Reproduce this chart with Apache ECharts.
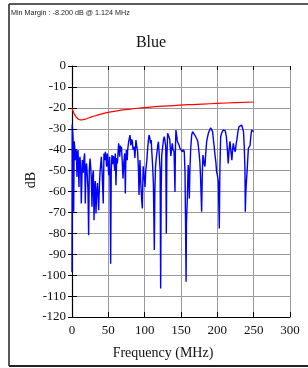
<!DOCTYPE html>
<html>
<head>
<meta charset="utf-8">
<script src="https://cdn.jsdelivr.net/npm/echarts@6/dist/echarts.min.js"></script>
<style>
html, body { margin: 0; padding: 0; background: #fff; }
#main { width: 308px; height: 368px; }
</style>
</head>
<body>
<div id="main"></div>
<script>
var xTicks = [0, 50, 100, 150, 200, 250, 300];
var yTicks = [0, -10, -20, -30, -40, -50, -60, -70, -80, -90, -100, -110, -120];

// red limit line
var limitFreq = [0, 2, 4, 6, 8, 10, 12, 15, 20, 25, 30, 40, 50, 60, 70, 80, 90, 100, 120, 140, 160, 180, 200, 225, 250];
var limitDb = [-20, -22, -23.5, -24.5, -25.2, -25.6, -25.8, -25.7, -25.2, -24.6, -24, -23, -22.2, -21.6, -21, -20.6, -20.2, -19.9, -19.3, -18.9, -18.5, -18.2, -17.9, -17.5, -17.2];

// blue measured trace
var blueFreq = [0, 0.3, 1.4, 2.3, 3, 3.7, 4.5, 5.2, 6, 6.9, 7.5, 8.3, 9.6, 10.3, 11, 12, 12.8, 14.2, 15.6, 16.5,
  17.4, 18.3, 19.2, 20, 21, 22, 22.9, 23.8, 24.8, 25.7, 26.6, 27.5, 28.5, 29.4, 30.3, 31.2, 32, 33, 34, 35,
  35.8, 36.7, 37.6, 38.5, 39.5, 40.4, 41.3, 42.2, 43, 44, 45, 45.9, 46.8, 47.7, 48.6, 49.5, 50.5, 51.8, 52.5, 53.2,
  54, 55, 56, 57, 57.8, 58.7, 59.6, 60.5, 61.5, 62.4, 63.3, 64.2, 65, 65.6, 66.5, 67.2, 68, 69, 70.2, 71.3,
  72.5, 73.4, 74, 74.8, 76, 76.6, 78, 79.8, 81, 82, 83, 84, 85.5, 86.5, 88, 89, 90.3, 91.5, 92.2, 93,
  93.5, 94.5, 95.9, 96.8, 97.5, 98, 99, 100.5, 101.5, 103, 104, 105, 106, 107, 108, 109, 110, 111, 112, 113.3,
  114, 115, 116, 117, 118, 119, 120.5, 121.3, 122, 122.7, 123.5, 125, 126, 127, 128, 129, 129.8, 130.5, 131.6, 132.5,
  133.5, 134.5, 136, 137, 138, 139, 140.5, 141.7, 142.3, 143, 144, 145, 146.3, 147.5, 148.6, 149.5, 151, 152, 153.5, 154.5,
  155.5, 156.4, 157, 157.5, 158.7, 159.5, 160, 160.8, 161.5, 162.2, 163.3, 164.7, 166, 167.5, 169, 170.6, 172, 173, 174, 175,
  176, 177, 178.4, 179.3, 180.2, 181, 182, 183, 184, 185.3, 186.5, 187.6, 189, 190.8, 192, 193.5, 194.5, 195.5, 196.8, 198,
  199, 200, 201.4, 202.7, 203.5, 204.6, 206, 208, 209.5, 211, 212.5, 213.7, 215, 216.2, 217.4, 218.5, 220, 221, 222, 223.5,
  224.7, 226, 227, 228.5, 229.8, 231, 232, 233.5, 235, 236, 237, 238, 238.5, 239.3, 240, 241, 242.7, 244, 245, 246,
  247.2, 248.5, 250];
var blueDb = [-98.5, -28, -34, -69.7, -36, -38.6, -45, -40, -41, -53, -42, -40.2, -57.8, -45, -43.4, -50, -65.7, -45, -51, -44,
  -41.8, -65.7, -48, -46.6, -52, -59.3, -80.9, -50, -44.2, -48, -54, -67.3, -52, -50, -73.7, -58, -55, -70.5, -60, -56,
  -62, -69, -58, -51, -47, -43.4, -50, -57.8, -65.7, -41.8, -45, -41, -44, -48.2, -41.8, -46, -52.2, -43.4, -60, -94.5,
  -50, -42.6, -47, -43, -45, -50, -41.8, -57, -44, -46.6, -42, -37, -40, -43.4, -38, -41, -38.6, -45, -53.8, -46,
  -41.8, -61, -46.6, -40.2, -45, -40.2, -36, -33, -38, -35, -36, -40, -38.6, -44, -35.4, -38, -41, -50, -61.7, -50,
  -45, -55, -64.1, -68.1, -55, -47.9, -52, -57.8, -50, -45, -40, -36, -33, -34, -37, -35.4, -42, -48, -56.2, -88,
  -60, -47.9, -44, -41, -38, -36.2, -36.2, -50, -106.4, -60, -42.6, -38, -35, -33.8, -36, -38.6, -80.1, -45, -32.2, -33,
  -31.4, -35, -43, -40, -37, -40, -41, -60.2, -40, -30.6, -33, -36, -35.4, -38, -39.4, -40, -38.6, -41, -40, -41,
  -50.6, -80, -103.2, -75, -63.3, -52, -47.4, -55, -63.4, -50.6, -40, -33, -31.4, -32, -33, -33, -35, -36, -38.6, -42,
  -46, -53.8, -69.7, -52, -42.6, -44, -47, -48, -42, -36.2, -34, -32.2, -31, -29.5, -30, -31.4, -35, -38, -42.6, -46,
  -50.6, -52, -55.4, -77.7, -50, -33.8, -32, -30.6, -31, -31, -34, -39.4, -46.6, -40, -36, -40, -45, -40, -37, -40,
  -41, -37, -35, -31, -29, -28.5, -29.5, -28.2, -29, -31.4, -38, -49, -69.7, -60, -55.4, -50, -39.4, -40, -38, -34,
  -30.6, -30, -31.4];

function zip(xs, ys) {
  var out = [];
  for (var i = 0; i < xs.length; i++) out.push([xs[i], ys[i]]);
  return out;
}

var chartDom = document.getElementById('main');
var myChart = echarts.init(chartDom, null, { renderer: 'canvas' });
var option;

var serif = 'Liberation Serif';
var labelStyle = { color: '#111', fontFamily: serif, fontSize: 13 };

option = {
  animation: false,
  backgroundColor: '#fff',
  grid: { left: 72, right: 18, top: 66, bottom: 51 },
  xAxis: [
    {
      type: 'value', min: xTicks[0], max: xTicks[xTicks.length - 1], interval: 50,
      axisLine: { show: true, onZero: false, lineStyle: { color: '#000', width: 1.2 } },
      axisTick: { show: true, inside: true, length: 5, lineStyle: { color: '#000' } },
      axisLabel: Object.assign({ margin: 7 }, labelStyle),
      splitLine: { show: true, lineStyle: { color: '#999', width: 1 } }
    },
    {
      type: 'value', min: xTicks[0], max: xTicks[xTicks.length - 1], interval: 50, position: 'bottom',
      axisLine: { show: false },
      axisTick: { show: true, length: 4, lineStyle: { color: '#000' } },
      axisLabel: { show: false },
      splitLine: { show: false }
    }
  ],
  yAxis: [
    {
      type: 'value', min: yTicks[yTicks.length - 1], max: yTicks[0], interval: 10,
      axisLine: { show: true, onZero: false, lineStyle: { color: '#000', width: 1.2 } },
      axisTick: { show: true, inside: true, length: 5, lineStyle: { color: '#000' } },
      axisLabel: Object.assign({ margin: 6 }, labelStyle),
      splitLine: { show: true, lineStyle: { color: '#999', width: 1 } }
    },
    {
      type: 'value', min: yTicks[yTicks.length - 1], max: yTicks[0], interval: 10, position: 'left',
      axisLine: { show: false },
      axisTick: { show: true, length: 4, lineStyle: { color: '#000' } },
      axisLabel: { show: false },
      splitLine: { show: false }
    }
  ],
  graphic: [
    { type: 'line', shape: { x1: 9, y1: 4, x2: 308, y2: 4 }, style: { stroke: '#222', lineWidth: 1.5 } },
    { type: 'line', shape: { x1: 9, y1: 4, x2: 9, y2: 366 }, style: { stroke: '#222', lineWidth: 1.5 } },
    { type: 'line', shape: { x1: 9, y1: 366, x2: 308, y2: 366 }, style: { stroke: '#222', lineWidth: 2 } },
    { type: 'text', left: 11, top: 10, style: { text: 'Min Margin : -8.200 dB @ 1.124 MHz', fill: '#222', font: '7.2px "Liberation Sans"' } },
    { type: 'text', x: 151, y: 43, style: { text: 'Blue', fill: '#111', font: '16px "Liberation Serif"', align: 'center', verticalAlign: 'middle' } },
    { type: 'text', x: 163, y: 353, style: { text: 'Frequency (MHz)', fill: '#111', font: '14px "Liberation Serif"', align: 'center', verticalAlign: 'middle' } },
    { type: 'text', x: 31, y: 180, rotation: Math.PI / 2, style: { text: 'dB', fill: '#111', font: '14px "Liberation Serif"', align: 'center', verticalAlign: 'middle' } }
  ],
  series: [
    {
      name: 'Blue', type: 'line', xAxisIndex: 0, yAxisIndex: 0,
      showSymbol: false, symbol: 'none',
      lineStyle: { color: '#0000ff', width: 1.4 },
      data: zip(blueFreq, blueDb)
    },
    {
      name: 'Limit', type: 'line', xAxisIndex: 0, yAxisIndex: 0,
      showSymbol: false, symbol: 'none', smooth: true,
      lineStyle: { color: '#ff0000', width: 1.2 },
      data: zip(limitFreq, limitDb)
    }
  ]
};
option && myChart.setOption(option);
</script>
</body>
</html>
